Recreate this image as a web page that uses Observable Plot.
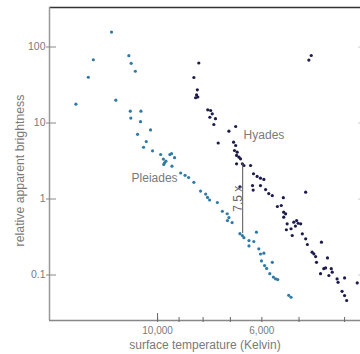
<!DOCTYPE html>
<html><head><meta charset="utf-8">
<script src="https://cdn.jsdelivr.net/npm/d3@7"></script>
<script src="https://cdn.jsdelivr.net/npm/@observablehq/plot@0.6"></script>
<style>html,body{margin:0;padding:0;background:#fff;overflow:hidden}svg{display:block}</style>
</head><body><div id="chart"></div>
<script>
// Pleiades cluster: surface temperature (K) and relative apparent brightness
const pleiadesTemp = [12530,13700,11510,11380,11150,14040,14920,12270,11430,10850,11400,10870,10350,11030,10570,10710,10250,9850,9720,9415,9340,9200,9660,9700,9320,9600,8930,8740,8590,8370,8100,7900,7830,7750,7460,7280,7110,7050,7100,6940,6680,6600,6550,6390,6160,6240,6390,6090,6040,5940,6010,5920,5860,5700,5770,5670,5610,5550,5260,5200];
const pleiadesBright = [157,68,77,61,48,40,17.7,20,14.3,14.3,11.6,10.4,8.1,7.1,5.7,4.8,4.3,3.85,3.35,3.85,3.95,3.5,3.0,2.85,2.7,3.15,2.2,2.05,1.92,1.66,1.27,1.16,1.05,0.97,0.9,0.69,0.64,0.57,0.52,0.49,0.35,0.33,0.31,0.284,0.366,0.276,0.241,0.221,0.189,0.194,0.153,0.133,0.122,0.147,0.104,0.094,0.089,0.087,0.054,0.051];
// Hyades cluster
const hyadesTemp = [8170,8370,8230,8260,8210,8300,7820,7710,7650,7740,7530,7590,6820,7050,7430,6890,6820,6860,6770,6790,6710,6660,6790,6600,6550,6340,6250,6140,6040,5940,6680,6280,6260,6040,5890,5800,5700,5400,4840,5560,5455,5390,5340,5390,5300,5320,5200,5130,5060,5020,4960,5090,5170,4920,4840,4800,4480,4690,4650,4610,4590,4350,4430,4390,4270,4250,4500,4320,4150,4130,4000,3760,4050,4000,3960,4710,4765];
const hyadesBright = [61.6,39.7,27.3,23.4,22.0,21.5,14.9,14.6,13.2,11.9,11.4,9.56,9.0,7.8,5.46,5.59,5.06,4.35,4.13,3.74,3.55,3.38,2.9,2.9,2.76,2.76,2.15,1.98,1.88,1.81,1.44,1.5,1.31,1.5,1.33,1.18,1.11,1.04,1.23,0.797,0.821,0.67,0.639,0.576,0.472,0.394,0.406,0.495,0.521,0.48,0.472,0.441,0.331,0.348,0.299,0.252,0.27,0.2,0.19,0.175,0.147,0.168,0.121,0.124,0.121,0.109,0.104,0.0985,0.0889,0.0802,0.0916,0.0787,0.061,0.0536,0.0462,77.3,67.4];

const xTicks = [10000,9000,8000,7000,6000,5000,4000];
const xLabelTicks = [10000, 6000];
const xLabelTexts = ["10,000", "6,000"];
const xMajorTicks = [10000];
const yTicks = [100,10,1,0.1];
const yTickLabels = ["100","10","1","0.1"];
const xTitle = "surface temperature (Kelvin)";
const yTitle = "relative apparent brightness";

const clusterNames = ["Hyades","Pleiades"];
const clusterLabelTemp = [6560, 11360];
const clusterLabelBright = [6.95, 1.89];

const gapTemp = [6590];
const gapTop = [2.9];
const gapBottom = [0.35];
const gapLabel = ["7.5 x"];

const xDomain = [16980, 3700];
const yDomain = [0.0252, 331];

const pleiades = pleiadesTemp.map((t, i) => ({t, b: pleiadesBright[i]}));
const hyades = hyadesTemp.map((t, i) => ({t, b: hyadesBright[i]}));
const labels = clusterNames.map((n, i) => ({n, t: clusterLabelTemp[i], b: clusterLabelBright[i]}));
const xLabels = xLabelTicks.map((t, i) => ({t, s: xLabelTexts[i]}));
const gap = gapTemp.map((t, i) => ({t, b1: gapTop[i], b2: gapBottom[i], s: gapLabel[i], bm: Math.sqrt(gapTop[i] * gapBottom[i])}));

const font = "'Liberation Sans', Arial, Helvetica, sans-serif";
const gray = "#7a7a7a";

const chart = Plot.plot({
  width: 360, height: 354,
  marginLeft: 49, marginRight: 0, marginTop: 7, marginBottom: 34,
  style: {fontFamily: font, background: "#fff", color: gray, overflow: "visible"},
  x: {type: "log", domain: xDomain, axis: null},
  y: {type: "log", domain: yDomain, axis: null},
  marks: [
    // frame lines
    Plot.ruleY([yDomain[1]], {stroke: "#333", strokeWidth: 1.6}),
    Plot.ruleX([xDomain[0]], {stroke: "#999", strokeWidth: 1.5}),
    Plot.ruleY([yDomain[0]], {stroke: "#888", strokeWidth: 1.3}),
    // x axis ticks
    Plot.axisX(xTicks, {anchor: "bottom", tickSize: 2, stroke: "#666", tickFormat: () => "", label: null}),
    Plot.axisX(xTicks, {anchor: "bottom", tickSize: -3, stroke: "#666", tickFormat: () => "", label: null}),
    Plot.axisX(xMajorTicks, {anchor: "bottom", tickSize: -7, stroke: "#666", tickFormat: () => "", label: null}),
    // x tick labels
    Plot.text(xLabels, {x: "t", text: "s", frameAnchor: "bottom", dy: 10, lineAnchor: "middle", fontSize: 10, fill: gray}),
    // y axis
    Plot.axisY(yTicks, {anchor: "left", tickSize: 3, tickPadding: 1, fontSize: 10.5, stroke: "#888", fill: gray,
      tickFormat: d => yTickLabels[yTicks.indexOf(d)], label: null}),
    Plot.axisY(yTicks, {anchor: "left", tickSize: -7, stroke: "#888", tickFormat: () => "", label: null}),
    Plot.axisY(yTicks, {anchor: "right", tickSize: -3, stroke: "#ccc", tickFormat: () => "", label: null}),
    // titles
    Plot.text([xTitle], {frameAnchor: "bottom", dy: 25, textAnchor: "middle", lineAnchor: "middle", fontSize: 12, fill: gray}),
    Plot.text([yTitle], {frameAnchor: "left", rotate: -90, dx: -29, dy: 6.5, textAnchor: "middle", lineAnchor: "middle", fontSize: 12.3, fill: gray}),
    // data
    Plot.dot(pleiades, {x: "t", y: "b", r: 1.6, fill: "#2f7ba6", stroke: null}),
    Plot.dot(hyades, {x: "t", y: "b", r: 1.6, fill: "#1c1b4c", stroke: null}),
    // annotations
    Plot.ruleX(gap, {x: "t", y1: "b1", y2: "b2", stroke: "#555", strokeWidth: 1}),
    Plot.text(gap, {x: "t", y: "bm", text: "s", rotate: -90, dx: -5, lineAnchor: "middle", fontSize: 12, fill: "#666"}),
    Plot.text(labels, {x: "t", y: "b", text: "n", textAnchor: "start", lineAnchor: "middle", fontSize: 12, fill: gray})
  ]
});
document.getElementById("chart").append(chart);
</script>
</body></html>
